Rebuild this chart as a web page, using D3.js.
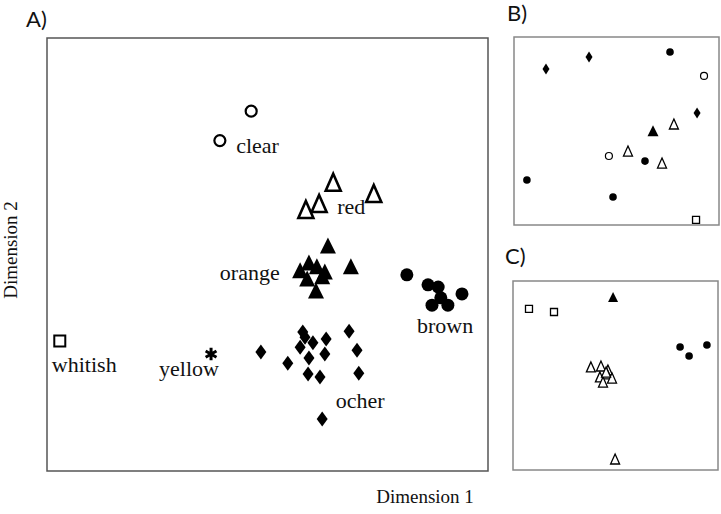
<!DOCTYPE html>
<html>
<head>
<meta charset="utf-8">
<script src="https://cdn.jsdelivr.net/npm/d3@7"></script>
<style>
  body { margin: 0; background: #fff; }
  svg { display: block; }
  .lab { font-family: "Liberation Serif", "Times New Roman", serif; fill: #111; }
  .panel { font-family: "Lato", "Open Sans", sans-serif; fill: #111; }
</style>
</head>
<body>
<svg id="chart" width="721" height="514"></svg>
<script>
// panel A: group points, coordinates 0..100 on both dimensions
const clearPts = [[46.3, 83.1], [39.2, 76.3]]
const redPts = [[64.9, 66.3], [74.1, 63.7], [61.7, 61.4], [58.7, 60.0]]
const orangePts = [[63.7, 51.7], [68.9, 46.9], [59.4, 47.8], [57.4, 46.0], [61.2, 46.9],
  [63.0, 45.7], [59.0, 44.1], [62.4, 44.6], [61.0, 41.3]]
const brownPts = [[81.6, 45.3], [86.4, 43.0], [88.7, 42.5], [94.1, 40.9], [89.3, 40.0],
  [87.3, 38.3], [90.9, 38.3]]
const ocherPts = [[58.0, 32.1], [48.5, 27.5], [54.6, 24.9], [57.4, 28.6], [58.5, 30.9],
  [60.3, 29.6], [63.3, 30.5], [59.4, 26.1], [63.0, 27.0], [59.2, 22.4], [61.9, 21.7],
  [68.5, 32.3], [70.3, 27.9], [70.7, 22.6], [62.4, 12.0]]
const yellowPts = [[37.2, 27.0]]
const whitishPts = [[2.9, 30.0]]

const groupNames = ['clear', 'red', 'orange', 'brown', 'whitish', 'yellow', 'ocher']
const labelPos = [[42.9, 73.4], [65.8, 59.4], [39.2, 44.1], [83.9, 31.9], [1.1, 22.9], [25.4, 21.9], [65.5, 14.5]]

// panel B
const bDiamond = [[15.6, 83.0], [36.6, 89.4], [89.3, 59.6]]
const bDot = [[76.1, 92.0], [6.3, 23.9], [48.3, 14.9], [63.9, 34.0]]
const bRing = [[92.7, 79.3], [46.3, 36.7]]
const bTriFill = [[67.8, 49.5]]
const bTriOpen = [[78.0, 53.2], [55.6, 38.8], [72.2, 32.4]]
const bSquare = [[88.8, 2.7]]

// panel C
const cTriFill = [[48.8, 91.0]]
const cSquare = [[7.8, 85.2], [20.0, 83.6]]
const cDot = [[81.5, 65.1], [85.9, 60.3], [94.6, 66.1]]
const cTriOpen = [[38.0, 54.0], [42.9, 54.5], [46.3, 52.4], [42.4, 48.7], [45.9, 50.3],
  [48.3, 48.1], [43.9, 46.0], [45.4, 51.3], [49.8, 5.3]]

const svg = d3.select('#chart')

// shape paths drawn around 0,0 (w = width, h = height)
function tri(w, h) { return `M0,${-h * 0.6}L${w / 2},${h * 0.4}L${-w / 2},${h * 0.4}Z` }
function dia(w, h) { return `M0,${-h / 2}L${w / 2},0L0,${h / 2}L${-w / 2},0Z` }
function sq(s) { return `M${-s / 2},${-s / 2}h${s}v${s}h${-s}Z` }
function circ(r) { return d3.symbol(d3.symbolCircle, Math.PI * r * r)() }

function panel(x0, y0, x1, y1, stroke) {
  const x = d3.scaleLinear().domain([0, 100]).range([x0, x1])
  const y = d3.scaleLinear().domain([0, 100]).range([y1, y0])
  svg.append('rect').attr('x', x0).attr('y', y0).attr('width', x1 - x0).attr('height', y1 - y0)
    .attr('fill', 'none').attr('stroke', stroke).attr('stroke-width', 1.5)
  return { x, y }
}

function marks(p, data, d, fill, sw) {
  svg.append('g').selectAll('path').data(data).join('path')
    .attr('transform', v => `translate(${p.x(v[0])},${p.y(v[1])})`)
    .attr('d', d)
    .attr('fill', fill ? '#000' : '#fff')
    .attr('stroke', '#000')
    .attr('stroke-width', fill ? 0 : sw)
}

// ---- panel A
const A = panel(47, 38, 488, 471, '#555')
marks(A, clearPts, circ(5.5), false, 2.2)
marks(A, redPts, tri(15, 17), false, 2.6)
marks(A, orangePts, tri(16, 16), true)
marks(A, brownPts, circ(6.5), true)
marks(A, ocherPts, dia(11, 15), true)
marks(A, whitishPts, sq(11), false, 2)
svg.append('g').selectAll('path').data(yellowPts).join('path')
  .attr('transform', v => `translate(${A.x(v[0])},${A.y(v[1])})`)
  .attr('d', d3.symbol(d3.symbolAsterisk, 110)())
  .attr('stroke', '#000').attr('stroke-width', 3)

svg.append('g').selectAll('text').data(groupNames).join('text')
  .attr('class', 'lab')
  .attr('x', (d, i) => A.x(labelPos[i][0]))
  .attr('y', (d, i) => A.y(labelPos[i][1]))
  .attr('font-size', 22)
  .text(d => d)

svg.append('text').attr('class', 'lab').attr('x', 425).attr('y', 503)
  .attr('text-anchor', 'middle').attr('font-size', 19).text('Dimension 1')
svg.append('text').attr('class', 'lab').attr('transform', 'translate(17,250) rotate(-90)')
  .attr('text-anchor', 'middle').attr('font-size', 19).text('Dimension 2')

// ---- panel B
const B = panel(514, 37, 719, 225, '#888')
marks(B, bDiamond, dia(7, 11), true)
marks(B, bDot, circ(3.8), true)
marks(B, bRing, circ(3.5), false, 1.2)
marks(B, bTriFill, tri(11, 11), true)
marks(B, bTriOpen, tri(9, 10), false, 1.3)
marks(B, bSquare, sq(7), false, 1.3)

// ---- panel C
const C = panel(513, 281, 718, 470, '#888')
marks(C, cTriFill, tri(10, 10), true)
marks(C, cSquare, sq(7), false, 1.3)
marks(C, cDot, circ(3.8), true)
marks(C, cTriOpen, tri(9, 10), false, 1.3)

// panel letters
svg.selectAll('text.panel').data([['A)', 26, 27], ['B)', 507, 21], ['C)', 505, 264]]).join('text')
  .attr('class', 'panel')
  .attr('x', d => d[1]).attr('y', d => d[2])
  .attr('font-size', 22)
  .text(d => d[0])
</script>
</body>
</html>
